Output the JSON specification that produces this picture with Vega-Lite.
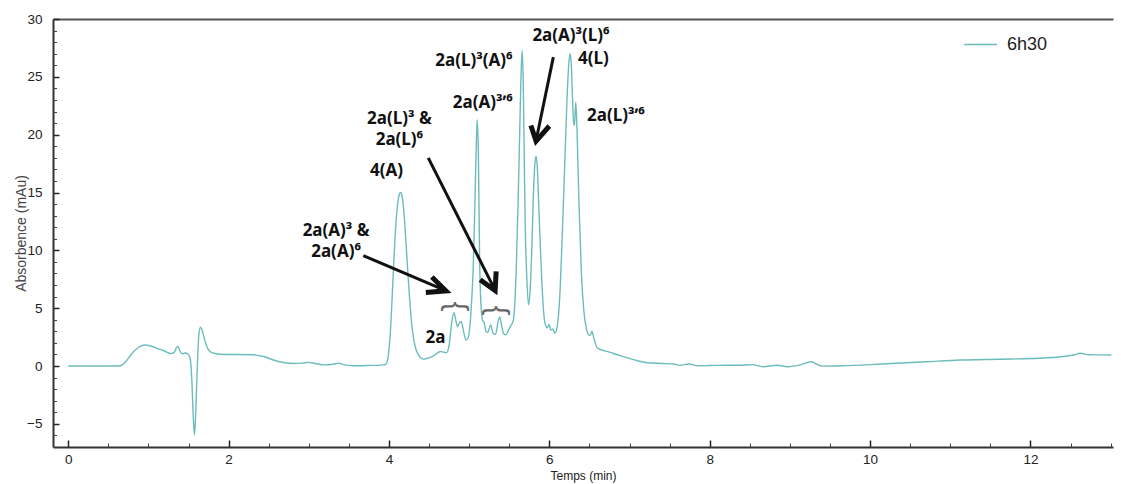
{
  "$schema": "https://vega.github.io/schema/vega-lite/v6.json",
  "width": 1060,
  "height": 428,
  "autosize": {"type": "none"},
  "padding": {"left": 53, "top": 19, "right": 8, "bottom": 37},
  "background": "white",
  "config": {"view": {"stroke": null}, "font": "Liberation Sans"},
  "resolve": {"axis": {"x": "independent", "y": "independent"}},
  "layer": [
    {
      "data": {"values": [
        {"time": 0.00, "abs": 0}, {"time": 0.30, "abs": 0}, {"time": 0.60, "abs": 0}, {"time": 0.66, "abs": 0.05},
        {"time": 0.72, "abs": 0.4}, {"time": 0.78, "abs": 0.95}, {"time": 0.84, "abs": 1.4}, {"time": 0.90, "abs": 1.7},
        {"time": 0.96, "abs": 1.82}, {"time": 1.02, "abs": 1.75}, {"time": 1.10, "abs": 1.55}, {"time": 1.20, "abs": 1.3},
        {"time": 1.28, "abs": 1.08}, {"time": 1.32, "abs": 1.15}, {"time": 1.35, "abs": 1.6}, {"time": 1.37, "abs": 1.7},
        {"time": 1.39, "abs": 1.35}, {"time": 1.42, "abs": 1.05}, {"time": 1.46, "abs": 1.12}, {"time": 1.49, "abs": 1.05},
        {"time": 1.52, "abs": 0.7}, {"time": 1.54, "abs": -1.0}, {"time": 1.56, "abs": -4.5}, {"time": 1.575, "abs": -5.95},
        {"time": 1.59, "abs": -4.0}, {"time": 1.61, "abs": 0.0}, {"time": 1.63, "abs": 2.8}, {"time": 1.65, "abs": 3.35},
        {"time": 1.67, "abs": 3.1}, {"time": 1.70, "abs": 2.3}, {"time": 1.74, "abs": 1.5}, {"time": 1.78, "abs": 1.2},
        {"time": 1.83, "abs": 1.08}, {"time": 1.95, "abs": 1.0}, {"time": 2.10, "abs": 1.0}, {"time": 2.30, "abs": 0.97},
        {"time": 2.45, "abs": 0.8}, {"time": 2.56, "abs": 0.52}, {"time": 2.70, "abs": 0.28}, {"time": 2.80, "abs": 0.22},
        {"time": 2.92, "abs": 0.25}, {"time": 3.00, "abs": 0.32}, {"time": 3.08, "abs": 0.22}, {"time": 3.20, "abs": 0.1},
        {"time": 3.30, "abs": 0.15}, {"time": 3.37, "abs": 0.25}, {"time": 3.45, "abs": 0.1}, {"time": 3.55, "abs": 0.03},
        {"time": 3.75, "abs": 0.05}, {"time": 3.93, "abs": 0.1}, {"time": 3.96, "abs": 0.15}, {"time": 3.99, "abs": 0.8},
        {"time": 4.01, "abs": 2.2}, {"time": 4.03, "abs": 4.5}, {"time": 4.05, "abs": 7.5}, {"time": 4.07, "abs": 10.3},
        {"time": 4.09, "abs": 12.6}, {"time": 4.11, "abs": 14.1}, {"time": 4.13, "abs": 14.85}, {"time": 4.145, "abs": 15.0},
        {"time": 4.16, "abs": 14.8}, {"time": 4.18, "abs": 13.8}, {"time": 4.20, "abs": 12.0}, {"time": 4.22, "abs": 9.8},
        {"time": 4.24, "abs": 7.6}, {"time": 4.26, "abs": 5.6}, {"time": 4.28, "abs": 3.9}, {"time": 4.30, "abs": 2.7},
        {"time": 4.33, "abs": 1.6}, {"time": 4.37, "abs": 0.95}, {"time": 4.43, "abs": 0.6}, {"time": 4.50, "abs": 0.7},
        {"time": 4.56, "abs": 0.9}, {"time": 4.61, "abs": 1.15}, {"time": 4.64, "abs": 1.25}, {"time": 4.68, "abs": 1.2},
        {"time": 4.72, "abs": 1.15}, {"time": 4.75, "abs": 1.8}, {"time": 4.78, "abs": 3.6}, {"time": 4.81, "abs": 4.6},
        {"time": 4.835, "abs": 3.9}, {"time": 4.855, "abs": 3.4}, {"time": 4.88, "abs": 3.75}, {"time": 4.90, "abs": 3.85},
        {"time": 4.93, "abs": 3.0}, {"time": 4.96, "abs": 2.25}, {"time": 4.985, "abs": 2.4}, {"time": 5.01, "abs": 3.5},
        {"time": 5.03, "abs": 5.5}, {"time": 5.05, "abs": 8.3}, {"time": 5.07, "abs": 13.5}, {"time": 5.085, "abs": 18.0},
        {"time": 5.10, "abs": 21.3}, {"time": 5.115, "abs": 18.5}, {"time": 5.13, "abs": 9.5}, {"time": 5.15, "abs": 5.0},
        {"time": 5.17, "abs": 3.9}, {"time": 5.185, "abs": 3.8}, {"time": 5.21, "abs": 3.0}, {"time": 5.23, "abs": 2.9},
        {"time": 5.27, "abs": 3.55}, {"time": 5.30, "abs": 2.8}, {"time": 5.33, "abs": 2.75}, {"time": 5.36, "abs": 3.8},
        {"time": 5.38, "abs": 4.25}, {"time": 5.40, "abs": 3.7}, {"time": 5.43, "abs": 2.8}, {"time": 5.46, "abs": 2.7},
        {"time": 5.49, "abs": 3.1}, {"time": 5.52, "abs": 3.5}, {"time": 5.55, "abs": 3.9}, {"time": 5.57, "abs": 5.5},
        {"time": 5.59, "abs": 9.0}, {"time": 5.61, "abs": 14.0}, {"time": 5.63, "abs": 20.0}, {"time": 5.645, "abs": 24.5},
        {"time": 5.66, "abs": 27.3}, {"time": 5.675, "abs": 24.5}, {"time": 5.69, "abs": 16.5}, {"time": 5.70, "abs": 12.0},
        {"time": 5.72, "abs": 7.5}, {"time": 5.74, "abs": 5.3}, {"time": 5.76, "abs": 6.5}, {"time": 5.78, "abs": 9.8},
        {"time": 5.80, "abs": 14.5}, {"time": 5.82, "abs": 17.5}, {"time": 5.835, "abs": 18.15}, {"time": 5.85, "abs": 17.2},
        {"time": 5.87, "abs": 13.5}, {"time": 5.89, "abs": 10.0}, {"time": 5.91, "abs": 6.8}, {"time": 5.93, "abs": 4.6},
        {"time": 5.95, "abs": 3.6}, {"time": 5.975, "abs": 3.3}, {"time": 5.995, "abs": 3.6}, {"time": 6.02, "abs": 3.1},
        {"time": 6.045, "abs": 3.2}, {"time": 6.07, "abs": 2.85}, {"time": 6.10, "abs": 3.5}, {"time": 6.13, "abs": 6.0},
        {"time": 6.16, "abs": 11.0}, {"time": 6.19, "abs": 17.0}, {"time": 6.22, "abs": 23.0}, {"time": 6.245, "abs": 26.3},
        {"time": 6.26, "abs": 27.0}, {"time": 6.275, "abs": 26.0}, {"time": 6.29, "abs": 23.0}, {"time": 6.305, "abs": 20.8},
        {"time": 6.315, "abs": 21.0}, {"time": 6.33, "abs": 22.8}, {"time": 6.345, "abs": 20.5}, {"time": 6.37, "abs": 14.0},
        {"time": 6.40, "abs": 8.0}, {"time": 6.43, "abs": 4.8}, {"time": 6.46, "abs": 3.3}, {"time": 6.49, "abs": 2.7},
        {"time": 6.51, "abs": 2.65}, {"time": 6.53, "abs": 3.0}, {"time": 6.56, "abs": 2.3}, {"time": 6.60, "abs": 1.55},
        {"time": 6.75, "abs": 1.2}, {"time": 6.90, "abs": 0.85}, {"time": 7.05, "abs": 0.55}, {"time": 7.20, "abs": 0.3},
        {"time": 7.40, "abs": 0.22}, {"time": 7.55, "abs": 0.18}, {"time": 7.63, "abs": 0.07}, {"time": 7.74, "abs": 0.18},
        {"time": 7.85, "abs": 0.02}, {"time": 8.00, "abs": 0.04}, {"time": 8.19, "abs": 0.07}, {"time": 8.35, "abs": 0.07},
        {"time": 8.53, "abs": 0.12}, {"time": 8.66, "abs": -0.06}, {"time": 8.84, "abs": 0.07}, {"time": 8.97, "abs": -0.06},
        {"time": 9.14, "abs": 0.12}, {"time": 9.26, "abs": 0.37}, {"time": 9.40, "abs": -0.01}, {"time": 9.65, "abs": 0.02},
        {"time": 10.00, "abs": 0.12}, {"time": 10.26, "abs": 0.22}, {"time": 10.70, "abs": 0.37}, {"time": 11.12, "abs": 0.52},
        {"time": 11.60, "abs": 0.59}, {"time": 12.11, "abs": 0.67}, {"time": 12.41, "abs": 0.82}, {"time": 12.55, "abs": 0.97},
        {"time": 12.62, "abs": 1.1}, {"time": 12.73, "abs": 0.97}, {"time": 12.85, "abs": 0.96}, {"time": 13.01, "abs": 0.95}
      ]},
      "mark": {"type": "line", "interpolate": "monotone", "strokeWidth": 1.4},
      "encoding": {
        "x": {"field": "time", "type": "quantitative",
          "scale": {"domain": [-0.19, 13.03], "nice": false, "zero": false},
          "axis": {"orient": "bottom", "values": [0, 2, 4, 6, 8, 10, 12], "format": "d", "grid": false,
            "tickSize": -7, "tickWidth": 1.5, "tickColor": "#222", "domainColor": "#333", "domainWidth": 2,
            "labelFont": "Liberation Sans", "labelFontSize": 13.5, "labelColor": "#222", "labelPadding": 12,
            "title": "Temps (min)", "titleFont": "Liberation Sans", "titleFontSize": 12, "titleFontWeight": "normal",
            "titleColor": "#222", "titlePadding": 5}},
        "y": {"field": "abs", "type": "quantitative",
          "scale": {"domain": [-7, 30], "nice": false, "zero": false},
          "axis": {"orient": "left", "values": [-5, 0, 5, 10, 15, 20, 25, 30], "grid": false,
            "tickSize": -6, "tickWidth": 1.5, "tickColor": "#222", "domainColor": "#333", "domainWidth": 2,
            "labelFont": "Liberation Sans", "labelFontSize": 13.5, "labelColor": "#222", "labelPadding": 17,
            "title": "Absorbence (mAu)", "titleFont": "Liberation Sans", "titleFontSize": 14, "titleFontWeight": "normal",
            "titleColor": "#444", "titlePadding": -2}},
        "color": {"datum": "6h30", "type": "nominal", "scale": {"range": ["#6dbcbc"]},
          "legend": {"orient": "none", "legendX": 910, "legendY": 8, "title": null, "symbolType": "stroke",
            "symbolSize": 1089, "symbolStrokeWidth": 1.4, "labelFont": "Liberation Sans", "labelFontSize": 18,
            "labelColor": "#222", "labelOffset": 9}}
      }
    },
    {
      "data": {"values": [
        {"x1": 3.68, "y1": 9.54, "x2": 4.70, "y2": 6.53},
        {"x1": 4.49, "y1": 18.0, "x2": 5.32, "y2": 6.6},
        {"x1": 6.05, "y1": 26.7, "x2": 5.835, "y2": 19.5}
      ]},
      "mark": {"type": "rule", "strokeWidth": 3, "color": "#111"},
      "encoding": {
        "x": {"field": "x1", "type": "quantitative",
          "axis": {"orient": "bottom", "values": [0.5, 1, 1.5, 2.5, 3, 3.5, 4.5, 5, 5.5, 6.5, 7, 7.5, 8.5, 9, 9.5, 10.5, 11, 11.5, 12.5, 13],
            "tickSize": -4, "tickWidth": 1, "tickColor": "#444", "labels": false, "domain": false, "title": null, "grid": false}},
        "y": {"field": "y1", "type": "quantitative",
          "axis": {"orient": "left", "values": [-6, -4, -3, -2, -1, 1, 2, 3, 4, 6, 7, 8, 9, 11, 12, 13, 14, 16, 17, 18, 19, 21, 22, 23, 24, 26, 27, 28, 29],
            "tickSize": -3.5, "tickWidth": 1, "tickColor": "#444", "labels": false, "domain": false, "title": null, "grid": false}},
        "x2": {"field": "x2"},
        "y2": {"field": "y2"}
      }
    },
    {
      "data": {"values": [
        {"arrow": "a1", "k": 1, "x": 4.535, "y": 7.69}, {"arrow": "a1", "k": 2, "x": 4.71, "y": 6.5}, {"arrow": "a1", "k": 3, "x": 4.46, "y": 6.36},
        {"arrow": "a2", "k": 1, "x": 5.137, "y": 7.46}, {"arrow": "a2", "k": 2, "x": 5.324, "y": 6.53}, {"arrow": "a2", "k": 3, "x": 5.337, "y": 8.18},
        {"arrow": "a3", "k": 1, "x": 5.77, "y": 20.8}, {"arrow": "a3", "k": 2, "x": 5.835, "y": 19.45}, {"arrow": "a3", "k": 3, "x": 6.0, "y": 20.75}
      ]},
      "mark": {"type": "line", "strokeWidth": 5, "color": "#111", "strokeJoin": "miter", "strokeCap": "butt"},
      "encoding": {
        "x": {"field": "x", "type": "quantitative", "axis": null},
        "y": {"field": "y", "type": "quantitative", "axis": null},
        "detail": {"field": "arrow"},
        "order": {"field": "k"}
      }
    },
    {
      "data": {"values": [
        {"x": 4.83, "y": 5.15, "t": "{"},
        {"x": 5.35, "y": 4.8, "t": "{"}
      ]},
      "mark": {"type": "text", "angle": 90, "fontSize": 30, "font": "Liberation Sans", "color": "#666", "align": "center", "baseline": "middle"},
      "encoding": {
        "x": {"field": "x", "type": "quantitative",
          "axis": {"orient": "top", "ticks": false, "labels": false, "title": null, "domain": true, "domainColor": "#555", "domainWidth": 2, "grid": false}},
        "y": {"field": "y", "type": "quantitative", "axis": null},
        "text": {"field": "t"}
      }
    },
    {
      "data": {"values": [
        {"x": 6.27, "y": 28.56, "t": "2a(A)³(L)⁶"},
        {"x": 6.55, "y": 26.5, "t": "4(L)"},
        {"x": 5.06, "y": 26.4, "t": "2a(L)³(A)⁶"},
        {"x": 5.17, "y": 22.7, "t": "2a(A)³ʼ⁶"},
        {"x": 6.83, "y": 21.6, "t": "2a(L)³ʼ⁶"},
        {"x": 4.13, "y": 21.35, "t": "2a(L)³ &"},
        {"x": 4.13, "y": 19.55, "t": "2a(L)⁶"},
        {"x": 3.97, "y": 16.85, "t": "4(A)"},
        {"x": 3.34, "y": 11.7, "t": "2a(A)³ &"},
        {"x": 3.34, "y": 9.85, "t": "2a(A)⁶"},
        {"x": 4.58, "y": 2.4, "t": "2a"}
      ]},
      "mark": {"type": "text", "fontSize": 17, "fontWeight": "bold", "font": "Noto Sans", "color": "#111", "align": "center", "baseline": "middle"},
      "encoding": {
        "x": {"field": "x", "type": "quantitative", "axis": null},
        "y": {"field": "y", "type": "quantitative", "axis": null},
        "text": {"field": "t"}
      }
    }
  ]
}
